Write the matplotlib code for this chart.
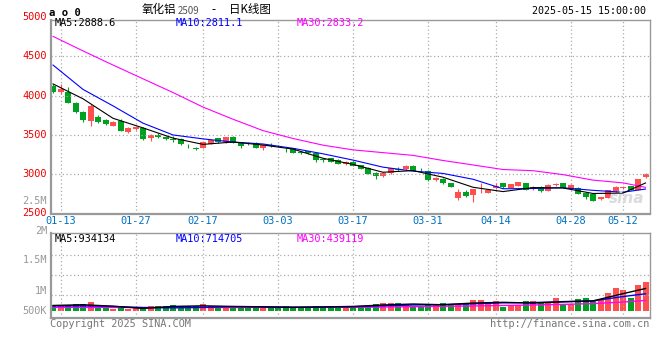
import numpy as np
import matplotlib
matplotlib.use('Agg')
import matplotlib.pyplot as plt
from matplotlib.transforms import blended_transform_factory

# daily k-line of 氧化铝2509, 2025-01-10 .. 2025-05-15 (one row per trading day)
opens = [4123, 4051, 4043, 3911, 3790, 3682, 3733, 3694, 3618, 3682,
         3542, 3576, 3593, 3458, 3500, 3478, 3453, 3445, 3362, 3330,
         3338, 3385, 3458, 3406, 3478, 3400, 3400, 3394, 3330, 3370,
         3362, 3320, 3330, 3280, 3296, 3267, 3190, 3203, 3182, 3127,
         3156, 3114, 3084, 3020, 2978, 3013, 3070, 3063, 3110, 3060,
         3042, 2930, 2940, 2885, 2695, 2779, 2737, 2770, 2766, 2822,
         2885, 2830, 2851, 2885, 2825, 2842, 2791, 2865, 2885, 2813,
         2830, 2766, 2745, 2682, 2702, 2787, 2825, 2851, 2800, 2960]
highs = [4148, 4148, 4107, 3915, 3800, 3890, 3754, 3700, 3680, 3707,
         3600, 3610, 3605, 3510, 3520, 3490, 3490, 3460, 3380, 3345,
         3420, 3445, 3465, 3478, 3485, 3415, 3415, 3405, 3380, 3395,
         3370, 3338, 3335, 3295, 3300, 3275, 3211, 3210, 3190, 3165,
         3165, 3120, 3090, 3025, 3030, 3080, 3090, 3115, 3115, 3075,
         3050, 2960, 2950, 2890, 2810, 2800, 2815, 2885, 2810, 2885,
         2890, 2880, 2905, 2890, 2850, 2850, 2870, 2890, 2890, 2870,
         2835, 2775, 2760, 2715, 2805, 2850, 2855, 2855, 2940, 3015]
lows = [4035, 4025, 3905, 3776, 3661, 3618, 3655, 3630, 3612, 3550,
        3530, 3565, 3440, 3423, 3455, 3440, 3410, 3375, 3335, 3305,
        3330, 3380, 3400, 3400, 3395, 3340, 3375, 3335, 3309, 3345,
        3345, 3287, 3270, 3255, 3260, 3160, 3160, 3150, 3125, 3120,
        3100, 3065, 3000, 2940, 2970, 3000, 3045, 3060, 3040, 3040,
        2920, 2920, 2880, 2840, 2670, 2705, 2651, 2766, 2760, 2815,
        2830, 2825, 2845, 2795, 2805, 2780, 2785, 2855, 2825, 2805,
        2745, 2680, 2655, 2675, 2695, 2780, 2810, 2795, 2795, 2950]
closes = [4043, 4085, 3911, 3796, 3690, 3873, 3661, 3640, 3661, 3554,
          3585, 3598, 3445, 3500, 3470, 3449, 3440, 3381, 3355, 3325,
          3415, 3436, 3410, 3470, 3402, 3360, 3392, 3340, 3372, 3360,
          3355, 3315, 3275, 3275, 3267, 3182, 3185, 3160, 3131, 3160,
          3105, 3070, 3004, 2978, 3020, 3076, 3060, 3110, 3046, 3050,
          2927, 2955, 2885, 2842, 2779, 2724, 2809, 2775, 2800, 2855,
          2834, 2873, 2898, 2800, 2835, 2790, 2864, 2870, 2830, 2864,
          2749, 2715, 2660, 2707, 2800, 2842, 2835, 2800, 2936, 3000]
volumes = [208, 249, 249, 290, 290, 370, 187, 187, 70, 125,
           70, 125, 137, 195, 195, 195, 237, 195, 195, 195,
           278, 195, 137, 195, 195, 208, 137, 208, 137, 137,
           137, 208, 137, 166, 112, 208, 166, 208, 166, 208,
           208, 208, 208, 290, 332, 332, 332, 290, 208, 208,
           249, 249, 332, 249, 290, 332, 456, 456, 320, 400,
           178, 249, 249, 415, 415, 344, 386, 552, 249, 300,
           498, 552, 415, 498, 760, 967, 872, 527, 1079, 1216]  # thousand lots

date_labels = ['01-13', '01-27', '02-17', '03-03', '03-17', '03-31', '04-14', '04-28', '05-12']
date_idx = [1, 11, 20, 30, 40, 50, 59, 69, 76]

# moving averages as drawn on the chart
ma_x = [0, 4, 8, 12, 16, 20, 24, 28, 32, 36, 40, 44, 48, 52, 56, 60, 64, 68, 72, 76, 79]
ma5 = [4150, 3960, 3712, 3590, 3460, 3380, 3410, 3372, 3320, 3203, 3125,
       3025, 3046, 2962, 2834, 2779, 2830, 2825, 2755, 2760, 2888.6]
ma10 = [4390, 4080, 3870, 3650, 3500, 3450, 3410, 3385, 3330, 3260, 3180,
        3090, 3040, 3010, 2936, 2815, 2818, 2828, 2795, 2771, 2811.1]
ma30 = [4755, 4570, 4390, 4215, 4040, 3855, 3700, 3555, 3455, 3370, 3310,
        3275, 3240, 3175, 3118, 3060, 3045, 2995, 2925, 2890, 2833.2]
vma5 = [230, 260, 200, 110, 190, 215, 190, 175, 150, 170, 190,
        250, 290, 260, 330, 360, 330, 380, 420, 720, 934.134]
vma10 = [210, 215, 190, 140, 135, 150, 180, 170, 160, 165, 175,
         220, 250, 265, 300, 340, 350, 390, 420, 600, 714.705]
vma30 = [150, 150, 148, 147, 147, 147, 147, 150, 150, 152, 155,
         165, 180, 195, 210, 230, 250, 275, 310, 370, 439.119]

price_labels = [5000, 4500, 4000, 3500, 3000, 2500]
vol_labels = ['2.5M', '2M', '1.5M', '1M', '500K']

RED = '#ff5050'
GREEN = '#00a020'
GRID = '#aaaaaa'
MONO = 'DejaVu Sans Mono'
W, H = 660, 360


def fx(px):
    return px / W


def fy(py):
    return 1 - py / H


o = np.array(opens, float)
c = np.array(closes, float)
x = np.arange(len(o))
cols = [RED if cc >= oo else GREEN for oo, cc in zip(o, c)]

fig = plt.figure(figsize=(6.6, 3.6), dpi=100)
fig.patch.set_facecolor('white')

ax = fig.add_axes([fx(50.7), fy(213.5), fx(599), 194 / H])
axv = fig.add_axes([fx(50.7), fy(318), fx(599), 84.7 / H])

# price panel
ax.vlines(x, lows, highs, colors=cols, lw=0.8)
ax.bar(x, np.maximum(np.abs(c - o), 8), bottom=np.minimum(o, c), width=0.8,
       color=cols, linewidth=0)
ax.plot(ma_x, ma30, color='#ff00ff', lw=0.8)
ax.plot(ma_x, ma10, color='#0000ff', lw=0.8)
ax.plot(ma_x, ma5, color='black', lw=0.8)
ax.set_ylim(2500, 4970)
ax.set_yticks([3000, 3500, 4000, 4500])

# volume panel
vol = np.array(volumes) * 1000
axv.bar(x, vol, width=0.8, color=cols, linewidth=0)
axv.plot(ma_x, np.array(vma30) * 1000, color='#ff00ff', lw=1)
axv.plot(ma_x, np.array(vma10) * 1000, color='#0000ff', lw=1)
axv.plot(ma_x, np.array(vma5) * 1000, color='black', lw=1)
axv.set_ylim(-290e3, 3.225e6)
axv.set_yticks([0.66e6, 1.49e6, 2.32e6])

for a in (ax, axv):
    a.set_xlim(-0.31, 79.56)
    a.set_xticks(date_idx)
    a.grid(True, color=GRID, ls=(0, (1, 2)), lw=0.9)
    a.tick_params(length=0, labelleft=False, labelbottom=False)
    for s in a.spines.values():
        s.set_color('#999999')
        s.set_linewidth(1)
    a.spines['left'].set_linewidth(1.6)
    a.spines['bottom'].set_linewidth(1.6)

ax.set_xticklabels(date_labels)
ax.tick_params(labelbottom=True, labelcolor='#0070c0', labelsize=7.4, pad=2)
for t in ax.get_xticklabels():
    t.set_fontfamily(MONO)

# price axis labels
tr = blended_transform_factory(ax.transAxes, ax.transData)
for v in price_labels:
    ax.text(-0.006, v, str(v), transform=tr, ha='right', va='center',
            color='#ee0000', fontsize=7.4, family=MONO, clip_on=False)

for lab, py in zip(vol_labels, [201, 231, 260, 290.7, 311]):
    fig.text(fx(47), fy(py), lab, ha='right', va='center', color='#999999',
             fontsize=7.4, family=MONO)

# header
fig.text(fx(49), fy(12.5), 'a o 0', ha='left', va='center', fontsize=7.6,
         family=MONO, fontweight='bold')
cjk = ['Noto Sans CJK SC', 'DejaVu Sans']
fig.text(fx(142), fy(10), '氧化铝', ha='left', va='center', fontsize=8.3, family=cjk)
fig.text(fx(178), fy(10.5), '2509', ha='left', va='center', fontsize=7, family=cjk,
         color='#555555')
fig.text(fx(211), fy(10), '-', ha='left', va='center', fontsize=8.3, family=cjk)
fig.text(fx(229), fy(10), '日K线图', ha='left', va='center', fontsize=8.3, family=cjk)
fig.text(fx(646), fy(11), '2025-05-15 15:00:00', ha='right', va='center',
         fontsize=7.2, family=MONO)

for py, vals in [(23.5, (ma5[-1], ma10[-1], ma30[-1])),
                 (238.5, (vma5[-1], vma10[-1], vma30[-1]))]:
    if py > 100:
        txt = ['MA5:%d' % round(vals[0] * 1000), 'MA10:%d' % round(vals[1] * 1000),
               'MA30:%d' % round(vals[2] * 1000)]
    else:
        txt = ['MA5:%.1f' % vals[0], 'MA10:%.1f' % vals[1], 'MA30:%.1f' % vals[2]]
    for t, px, col in zip(txt, [55, 176, 297], ['black', '#0000ff', '#ff00ff']):
        fig.text(fx(px), fy(py), t, ha='left', va='center', fontsize=7.4,
                 family=MONO, color=col)

fig.text(fx(627), fy(198), 'sina', ha='center', va='center', fontsize=11,
         fontweight='bold', style='italic', color='#d8d8d8', alpha=0.9)

fig.text(fx(50), fy(324), 'Copyright 2025 SINA.COM', ha='left', va='center',
         fontsize=7.4, family=MONO, color='#777777')
fig.text(fx(649), fy(324), 'http://finance.sina.com.cn', ha='right', va='center',
         fontsize=7.4, family=MONO, color='#777777')

fig.savefig('out.png', dpi=100, facecolor='white')
